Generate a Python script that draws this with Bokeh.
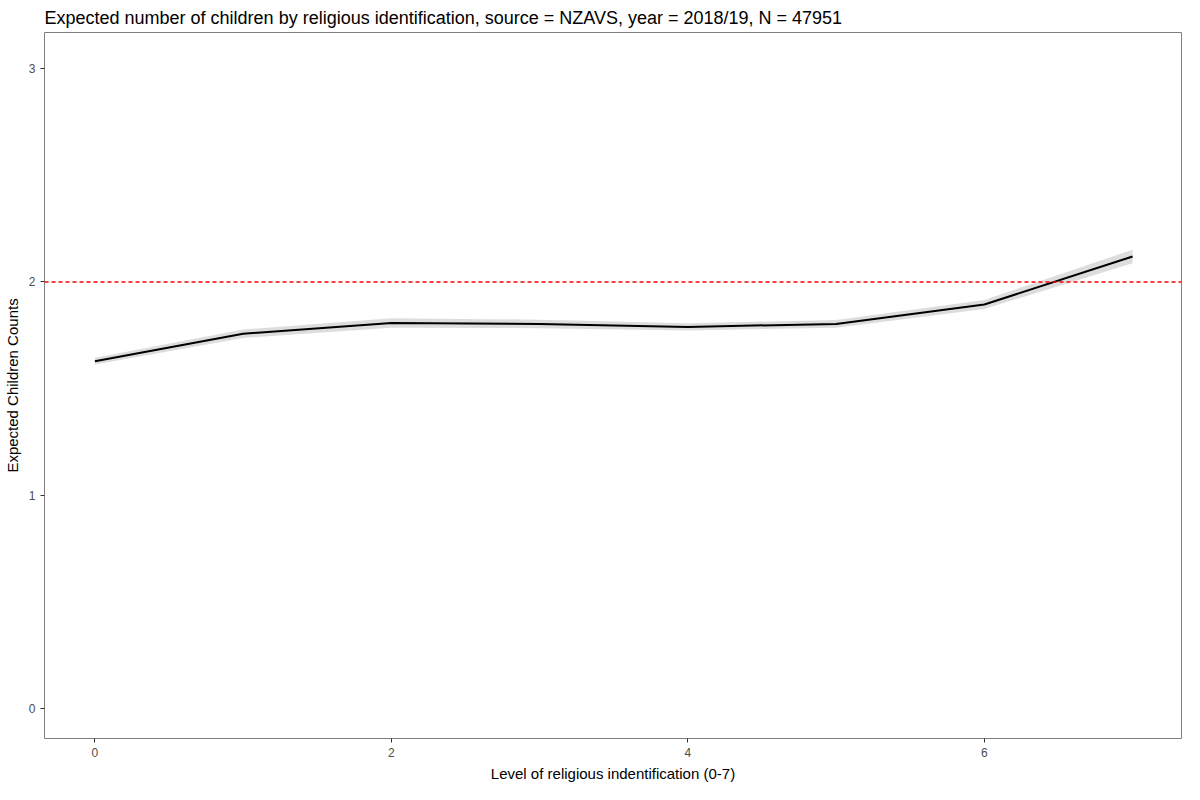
from bokeh.plotting import figure
from bokeh.models import Range1d, Span, FixedTicker, ColumnDataSource
from bokeh.embed import file_html
from bokeh.resources import INLINE

# religious identification level vs expected children counts
levels = [0, 1, 2, 3, 4, 5, 6, 7]
expected = [1.628, 1.757, 1.807, 1.803, 1.789, 1.803, 1.894, 2.119]
lower = [1.612, 1.737, 1.785, 1.783, 1.772, 1.785, 1.873, 2.087]
upper = [1.644, 1.777, 1.829, 1.823, 1.806, 1.821, 1.915, 2.151]
replacement_rate = 2

source = ColumnDataSource(data=dict(x=levels, y=expected, lo=lower, hi=upper))

p = figure(width=1184, height=784, output_backend="svg", toolbar_location=None,
           title="Expected number of children by religious identification, source = NZAVS, year = 2018/19, N = 47951",
           x_axis_label="Level of religious indentification (0-7)",
           y_axis_label="Expected Children Counts",
           x_range=Range1d(-0.34, 7.33), y_range=Range1d(-0.142, 3.17))

p.varea('x', y1='lo', y2='hi', source=source, fill_color="#d9d9d9", fill_alpha=0.9)
p.line('x', 'y', source=source, line_width=2, color="black")

p.add_layout(Span(location=replacement_rate, dimension="width", line_color="red",
                  line_dash="4 3", line_width=1.5))

p.xaxis.ticker = FixedTicker(ticks=[0, 2, 4, 6])
p.yaxis.ticker = FixedTicker(ticks=[0, 1, 2, 3])
p.xgrid.visible = False
p.ygrid.visible = False
p.outline_line_color = "#7f7f7f"
p.outline_line_width = 1
for ax in (p.xaxis, p.yaxis):
    ax.axis_line_color = None
    ax.major_tick_line_color = "#333333"
    ax.minor_tick_line_color = None
    ax.major_tick_out = 4
    ax.major_tick_in = 0
    ax.major_label_text_color = "#4d4d4d"
    ax.major_label_text_font_size = "12px"
    ax.axis_label_text_font_style = "normal"
    ax.axis_label_text_font_size = "15px"
    ax.axis_label_text_color = "black"
    ax.axis_label_text_font = "Liberation Sans"
    ax.major_label_text_font = "Liberation Sans"

p.title.text_font = "Liberation Sans"
p.title.text_font_style = "normal"
p.title.text_font_size = "18px"
p.title.text_color = "black"
p.min_border_left = 34
p.min_border_top = 22
p.min_border_right = 3
p.min_border_bottom = 28

open("out.html", "w").write(file_html(p, INLINE))
